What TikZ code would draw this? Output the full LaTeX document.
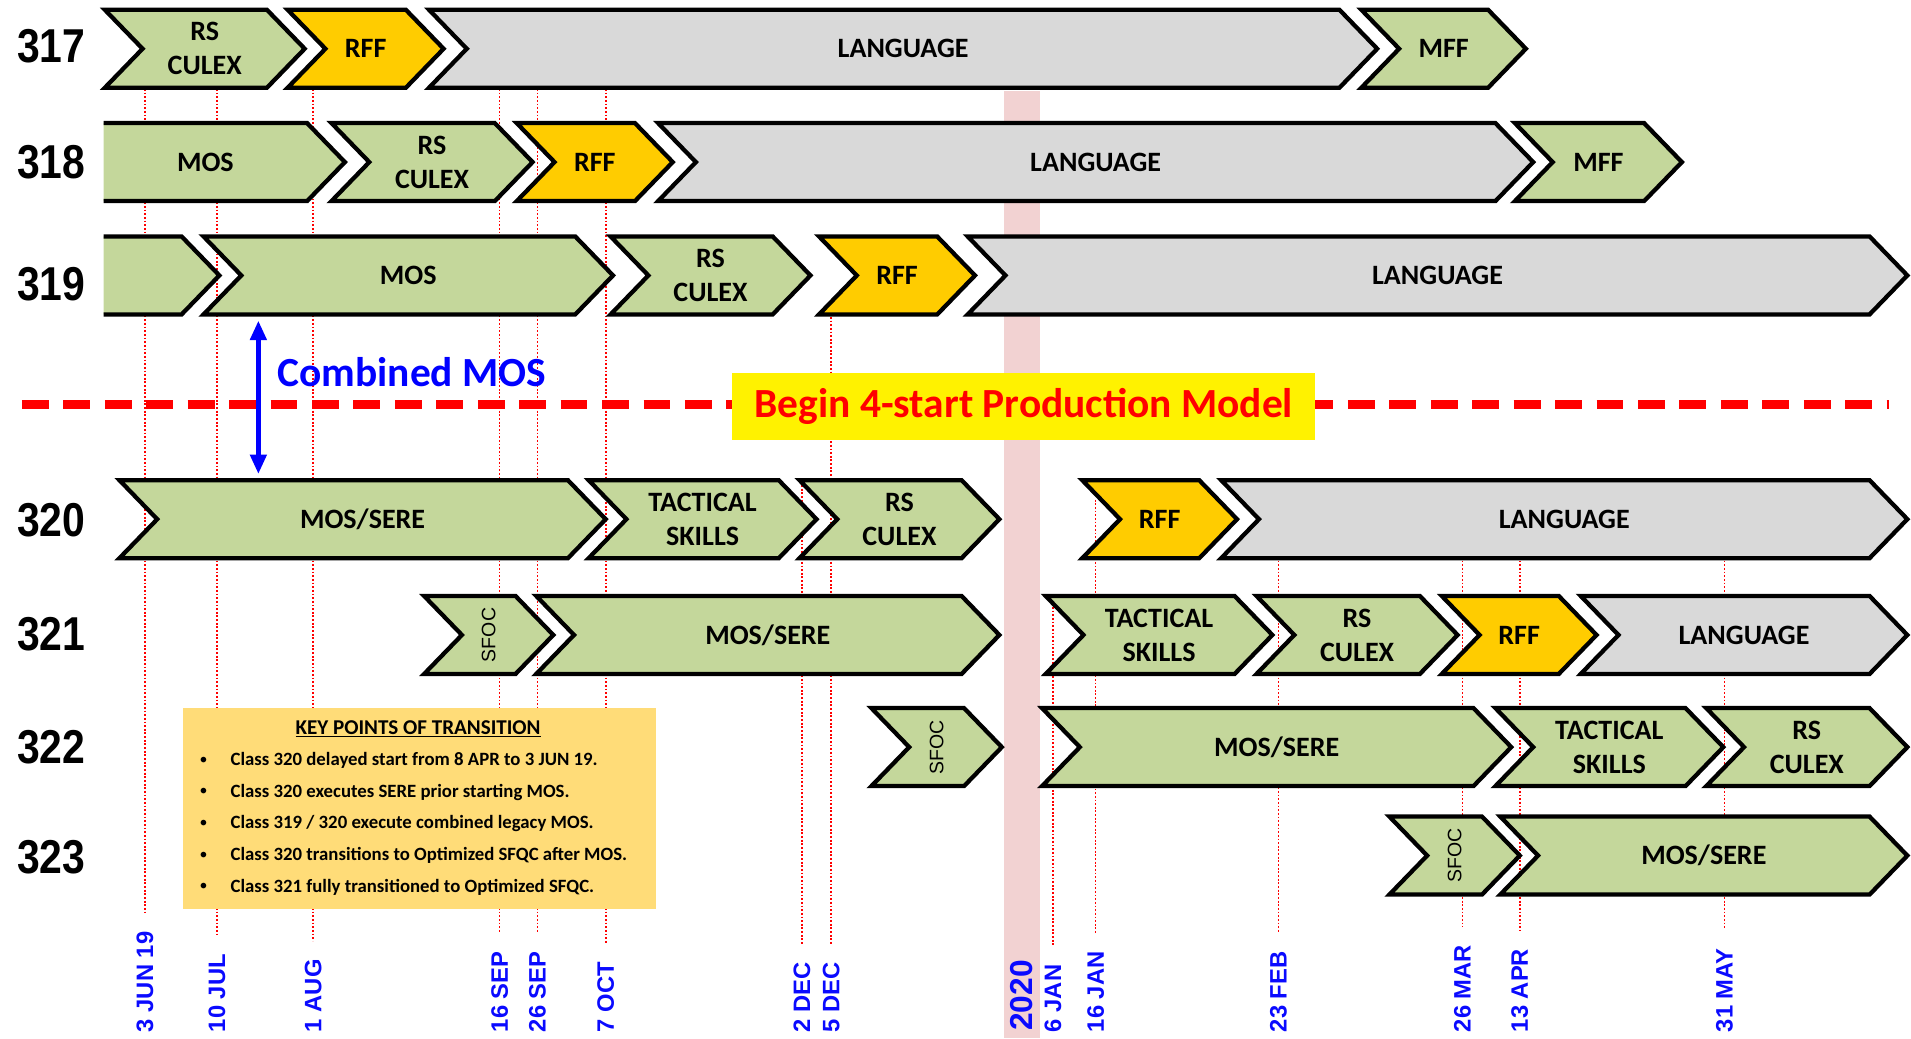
\documentclass[tikz,border=0pt]{standalone}
\usepackage{fontspec}
\setmainfont{Carlito}
\newfontfamily\numfont{Liberation Sans}[FakeStretch=0.86]
\newfontfamily\datefont{Liberation Sans}
\usetikzlibrary{arrows.meta}
\definecolor{chevgreen}{RGB}{196,215,155}
\definecolor{langgray}{RGB}{217,217,217}
\definecolor{rffgold}{RGB}{255,204,0}
\definecolor{bandpink}{RGB}{242,210,210}
\definecolor{keyyellow}{RGB}{255,220,120}
\definecolor{dateblue}{RGB}{10,10,255}
\tikzset{chevbox/.style={draw=black, line width=3.5pt, line join=miter}}
\tikzset{chevtext/.style={font=\bfseries\fontsize{23}{28}\selectfont, align=center, inner sep=0pt}}
\tikzset{classno/.style={font=\numfont\bfseries\fontsize{39}{39}\selectfont}}
\tikzset{datelbl/.style={font=\datefont\bfseries\fontsize{19.5}{19.5}\selectfont, text=dateblue, rotate=90, anchor=west, inner sep=0pt}}
\tikzset{dateline/.style={draw=red, line width=1.3pt, dash pattern=on 1.5pt off 1.5pt}}
\tikzset{cutline/.style={draw=red, line width=7pt, dash pattern=on 22pt off 12pt}}
\tikzset{banner/.style={fill=yellow, text=red, font=\bfseries\fontsize{34}{34}\selectfont, minimum width=478pt, minimum height=55pt, inner sep=0pt}}
\tikzset{cmarrow/.style={draw=blue, line width=4pt, {Triangle[length=16pt,width=13pt]}-{Triangle[length=16pt,width=13pt]}}}
\tikzset{keytext/.style={font=\bfseries\fontsize{15.4}{18}\selectfont, inner sep=0pt}}
\newcommand{\chev}[6][chevgreen]{%
  \draw[chevbox, fill=#1] (#3,#5-32) -- (#4-31,#5-32) -- (#4,#5) -- (#4-31,#5+32) -- (#3,#5+32) -- (#3+31,#5) -- cycle;
  \node[chevtext] (#2) at ({(#3+#4)/2},#5) {#6};}
\newcommand{\chevcut}[6][chevgreen]{%
  \fill[#1] (#3,#5-32) -- (#4-31,#5-32) -- (#4,#5) -- (#4-31,#5+32) -- (#3,#5+32) -- cycle;
  \draw[chevbox] (#3,#5-32) -- (#4-31,#5-32) -- (#4,#5) -- (#4-31,#5+32) -- (#3,#5+32);
  \node[chevtext] (#2) at ({(#3+#4-31)/2},#5) {#6};}
\newcommand{\sfoclbl}{\rotatebox{90}{\mdseries\datefont\fontsize{16}{16}\selectfont SFOC}}

\begin{document}
\begin{tikzpicture}[x=1pt, y=-1pt]
    \useasboundingbox (0,0) rectangle (1568,852);

    \foreach \xx/\ytop/\dtext in {119/73/3 JUN 19, 178/73/10 JUL, 257/73/1 AUG, 410/73/16 SEP,
        441/73/26 SEP, 497/73/7 OCT, 658/395/2 DEC, 682/260/5 DEC, 864/495/6 JAN, 899/410/16 JAN,
        1049/460/23 FEB, 1200/460/26 MAR, 1247/460/13 APR, 1415/460/31 MAY}{
        \node[datelbl] (d\xx) at (\xx,847) {\dtext};
        \coordinate (t\xx) at (\xx,\ytop);
        \draw[dateline] (t\xx) -- ([yshift=15pt]d\xx.east);
    }

    \fill[bandpink] (824,75) rectangle (853,852);
    \node[datelbl, font=\datefont\bfseries\fontsize{26}{26}\selectfont] (y2020) at (838,846) {2020};

    \node[classno] (c317) at (42,38) {317};
    \node[classno] (c318) at (42,133) {318};
    \node[classno] (c319) at (42,233) {319};
    \node[classno] (c320) at (42,427) {320};
    \node[classno] (c321) at (42,520) {321};
    \node[classno] (c322) at (42,613) {322};
    \node[classno] (c323) at (42,703) {323};

    \chev{rsA}{86}{250}{40}{RS\\CULEX}
    \chev[rffgold]{rffA}{236}{364}{40}{RFF}
    \chev[langgray]{langA}{352}{1130}{40}{LANGUAGE}
    \chev{mffA}{1117}{1252}{40}{MFF}

    \chevcut{mosB}{85}{283}{133}{MOS}
    \chev{rsB}{272}{437}{133}{RS\\CULEX}
    \chev[rffgold]{rffB}{424}{552}{133}{RFF}
    \chev[langgray]{langB}{540}{1258}{133}{LANGUAGE}
    \chev{mffB}{1243}{1380}{133}{MFF}

    \chevcut{preC}{85}{180}{226}{}
    \chev{mosC}{167}{503}{226}{MOS}
    \chev{rsC}{501}{665}{226}{RS\\CULEX}
    \chev[rffgold]{rffC}{672}{800}{226}{RFF}
    \chev[langgray]{langC}{794}{1565}{226}{LANGUAGE}

    \chev{mosD}{98}{497}{426}{MOS/SERE}
    \chev{tacD}{483}{670}{426}{TACTICAL\\SKILLS}
    \chev{rsD}{656}{820}{426}{RS\\CULEX}
    \chev[rffgold]{rffD}{888}{1015}{426}{RFF}
    \chev[langgray]{langD}{1002}{1565}{426}{LANGUAGE}

    \chev{sfocE}{348}{454}{521}{\sfoclbl}
    \chev{mosE}{440}{820}{521}{MOS/SERE}
    \chev{tacE}{858}{1044}{521}{TACTICAL\\SKILLS}
    \chev{rsE}{1031}{1196}{521}{RS\\CULEX}
    \chev[rffgold]{rffE}{1183}{1310}{521}{RFF}
    \chev[langgray]{langE}{1297}{1565}{521}{LANGUAGE}

    \chev{sfocF}{715}{822}{613}{\sfoclbl}
    \chev{mosF}{855}{1240}{613}{MOS/SERE}
    \chev{tacF}{1227}{1414}{613}{TACTICAL\\SKILLS}
    \chev{rsF}{1400}{1565}{613}{RS\\CULEX}

    \chev{sfocG}{1140}{1247}{702}{\sfoclbl}
    \chev{mosG}{1231}{1565}{702}{MOS/SERE}

    \coordinate (cutL) at (18,332);
    \coordinate (cutR) at (1550,332);
    \draw[cutline] (cutL) -- (cutR);
    \node[banner] (start4) at (840,333.5) {Begin 4-start Production Model};

    \coordinate (cmTop) at (212,263);
    \coordinate (cmBot) at (212,389);
    \draw[cmarrow] (cmTop) -- (cmBot);
    \node[text=blue, font=\bfseries\fontsize{34}{34}\selectfont] (cmos) at (338,305) {Combined MOS};

    \node[fill=keyyellow, minimum width=388pt, minimum height=165pt, inner sep=0pt, anchor=north west] (keys) at (150,581) {};
    \node[keytext, font=\bfseries\fontsize{17.3}{20}\selectfont] (keyhead) at (343,598) {\underline{KEY POINTS OF TRANSITION}};
    \foreach \yy/\ktext in {624/{Class 320 delayed start from 8 APR to 3 JUN 19.},
        650/{Class 320 executes SERE prior starting MOS.},
        676/{Class 319 / 320 execute combined legacy MOS.},
        702/{Class 320 transitions to Optimized SFQC after MOS.},
        728/{Class 321 fully transitioned to Optimized SFQC.}}{
        \node[keytext, font=\fontsize{13}{13}\selectfont] (b\yy) at (167,\yy) {\textbullet};
        \node[keytext, anchor=west] (k\yy) at (189,\yy) {\ktext};
    }
\end{tikzpicture}
\end{document}
